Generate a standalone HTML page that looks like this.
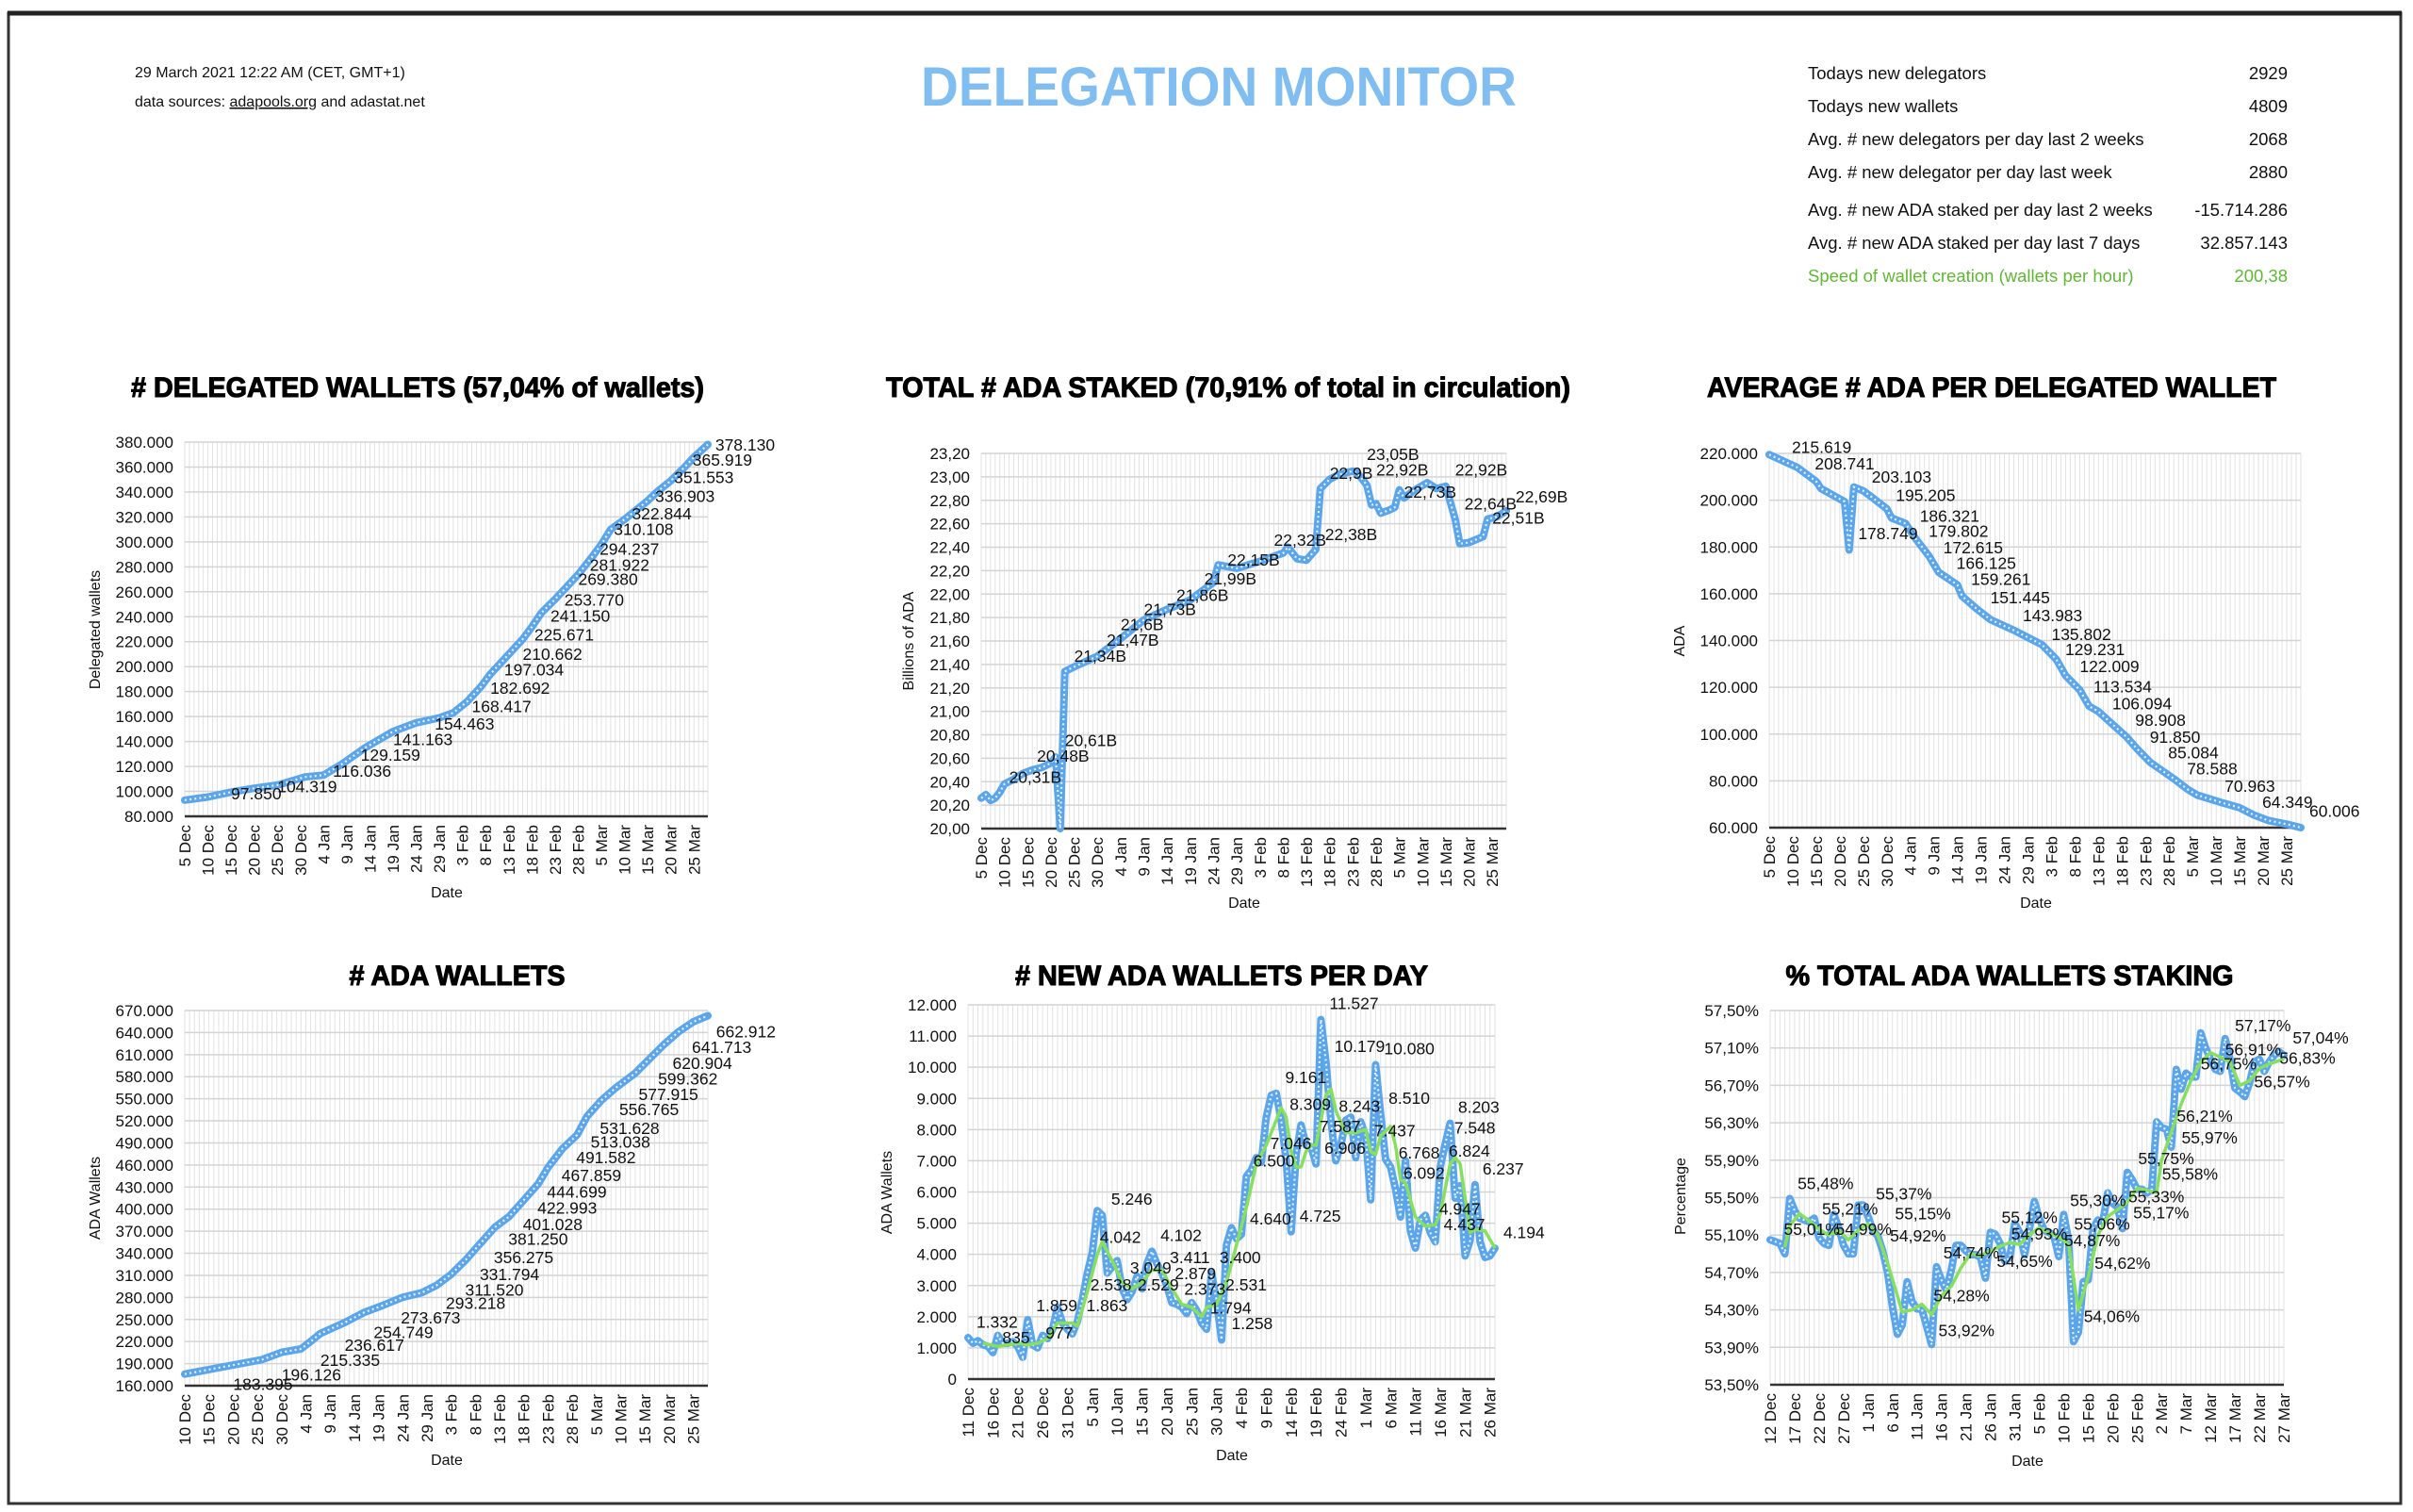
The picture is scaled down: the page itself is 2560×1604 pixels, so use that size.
<!DOCTYPE html>
<html><head><meta charset="utf-8"><style>
html,body{margin:0;padding:0;background:#fff;}
svg{display:block;font-family:"Liberation Sans",Arial,sans-serif;}
</style></head><body>
<svg id="root" width="2560" height="1604" viewBox="0 0 2560 1604" xmlns="http://www.w3.org/2000/svg">
<rect x="9" y="14" width="2538" height="1581" fill="#fff" stroke="#333" stroke-width="3"/>
<line x1="8" y1="14" x2="2548" y2="14" stroke="#222" stroke-width="5"/>
<text x="143" y="82" font-size="16" fill="#111">29 March 2021 12:22 AM  (CET, GMT+1)</text>
<text x="143" y="113" font-size="16" fill="#111">data sources: <tspan text-decoration="underline">adapools.org</tspan> and adastat.net</text>
<text x="1293" y="112" font-size="58" font-weight="bold" fill="#80bdf0" text-anchor="middle" textLength="632" lengthAdjust="spacingAndGlyphs">DELEGATION MONITOR</text>
<g font-size="18.5" fill="#111">
<text x="1918" y="84">Todays new delegators</text><text x="2427" y="84" text-anchor="end">2929</text>
<text x="1918" y="119">Todays new wallets</text><text x="2427" y="119" text-anchor="end">4809</text>
<text x="1918" y="154">Avg. # new delegators per day last 2 weeks</text><text x="2427" y="154" text-anchor="end">2068</text>
<text x="1918" y="189">Avg. # new delegator per day last week</text><text x="2427" y="189" text-anchor="end">2880</text>
<text x="1918" y="229">Avg. # new ADA staked per day last 2 weeks</text><text x="2427" y="229" text-anchor="end">-15.714.286</text>
<text x="1918" y="264">Avg. # new ADA staked per day last 7 days</text><text x="2427" y="264" text-anchor="end">32.857.143</text>
<text x="1918" y="299" fill="#5fb832">Speed of wallet creation (wallets per hour)</text><text x="2427" y="299" text-anchor="end" fill="#5fb832">200,38</text>
</g>
</svg>
<script>
// ---------- chart data ----------
const xTicksA = ["5 Dec","10 Dec","15 Dec","20 Dec","25 Dec","30 Dec","4 Jan","9 Jan","14 Jan","19 Jan","24 Jan","29 Jan","3 Feb","8 Feb","13 Feb","18 Feb","23 Feb","28 Feb","5 Mar","10 Mar","15 Mar","20 Mar","25 Mar"];
const xTicksB = ["10 Dec","15 Dec","20 Dec","25 Dec","30 Dec","4 Jan","9 Jan","14 Jan","19 Jan","24 Jan","29 Jan","3 Feb","8 Feb","13 Feb","18 Feb","23 Feb","28 Feb","5 Mar","10 Mar","15 Mar","20 Mar","25 Mar"];
const xTicksC = ["11 Dec","16 Dec","21 Dec","26 Dec","31 Dec","5 Jan","10 Jan","15 Jan","20 Jan","25 Jan","30 Jan","4 Feb","9 Feb","14 Feb","19 Feb","24 Feb","1 Mar","6 Mar","11 Mar","16 Mar","21 Mar","26 Mar"];
const xTicksD = ["12 Dec","17 Dec","22 Dec","27 Dec","1 Jan","6 Jan","11 Jan","16 Jan","21 Jan","26 Jan","31 Jan","5 Feb","10 Feb","15 Feb","20 Feb","25 Feb","2 Mar","7 Mar","12 Mar","17 Mar","22 Mar","27 Mar"];

const c1YVals = [80000,100000,120000,140000,160000,180000,200000,220000,240000,260000,280000,300000,320000,340000,360000,380000];
const c1YLabels = ["80.000","100.000","120.000","140.000","160.000","180.000","200.000","220.000","240.000","260.000","280.000","300.000","320.000","340.000","360.000","380.000"];
const c1Days = [0,5,10,15,20,26,30,34,39,45,50,55,58,61,64,66,68,70,73,75,77,80,83,85,88,90,92,95,98,100,102,105,108,110,113];
const c1Vals = [93000,95500,99400,102500,105000,111600,113000,122000,135000,148000,155000,159000,163000,172000,184000,194000,202000,210000,222000,232000,243000,254000,266000,274000,288000,298000,310000,318000,327000,333000,340000,349000,360000,368000,378130];
const c1LblText = ["97.850","104.319","116.036","129.159","141.163","154.463","168.417","182.692","197.034","210.662","225.671","241.150","253.770","269.380","281.922","294.237","310.108","322.844","336.903","351.553","365.919","378.130"];
const c1LblDay = [10,20,32,38,45,54,62,66,69,73,75.5,79,82,85,87.5,89.6,92.7,96.6,101.6,105.7,109.7,114.6];
const c1LblVal = [98000,103800,116200,129000,141400,153900,168100,182600,197400,210100,225500,240600,253600,269900,281400,294200,310100,322600,336500,351600,365500,377700];

const c2YVals = [20,20.2,20.4,20.6,20.8,21,21.2,21.4,21.6,21.8,22,22.2,22.4,22.6,22.8,23,23.2];
const c2YLabels = ["20,00","20,20","20,40","20,60","20,80","21,00","21,20","21,40","21,60","21,80","22,00","22,20","22,40","22,60","22,80","23,00","23,20"];
const c2Days = [0,1,2,3,4,5,7,9,11,13,15,16,17,18,20,25,30,35,40,45,50,51,55,60,65,66,68,70,72,73,75,77,80,81,83,84,85,86,88,89,90,91,93,96,98,100,101,102,103,105,108,109,111,113];
const c2Vals = [20.26,20.29,20.24,20.26,20.31,20.38,20.42,20.47,20.50,20.52,20.56,20.61,20.00,21.34,21.38,21.47,21.62,21.78,21.87,21.95,22.10,22.25,22.22,22.28,22.35,22.40,22.30,22.29,22.38,22.90,22.98,23.02,23.05,23.03,22.93,22.76,22.77,22.69,22.72,22.74,22.89,22.82,22.88,22.95,22.90,22.92,22.78,22.64,22.43,22.44,22.49,22.64,22.66,22.71];
const c2LblText = ["20,31B","20,48B","20,61B","21,34B","21,47B","21,6B","21,73B","21,86B","21,99B","22,15B","22,32B","22,38B","22,9B","23,05B","22,92B","22,73B","22,92B","22,64B","22,69B","22,51B"];
const c2LblDay = [6,12,18,20,27,30,35,42,48,53,63,74,75,83,85,91,102,104,115,110];
const c2LblVal = [20.44,20.62,20.75,21.47,21.61,21.74,21.87,21.99,22.13,22.29,22.46,22.51,23.03,23.19,23.06,22.87,23.06,22.77,22.83,22.65];

const c3YVals = [60000,80000,100000,120000,140000,160000,180000,200000,220000];
const c3YLabels = ["60.000","80.000","100.000","120.000","140.000","160.000","180.000","200.000","220.000"];
const c3Days = [0,6,10,11,16,17,18,20,22,25,26,29,31,34,36,40,41,44,47,52,55,58,61,63,66,68,70,73,76,78,81,86,89,91,96,100,103,106,110,113];
const c3Vals = [219500,214000,208000,205000,199400,178749,205600,204000,201000,196300,192400,190000,183900,176000,169200,163800,159000,153700,149000,144400,141300,138200,132000,125000,118900,111900,109600,104100,98700,94100,87900,80900,76300,73900,70800,68500,65400,63100,61500,60006];
const c3LblText = ["215.619","208.741","203.103","195.205","178.749","186.321","179.802","172.615","166.125","159.261","151.445","143.983","135.802","129.231","122.009","113.534","106.094","98.908","91.850","85.084","78.588","70.963","64.349","60.006"];
const c3LblDay = [4.8,9.7,21.8,26.9,18.9,32,33.9,37,39.8,42.9,47,53.9,60,62.9,66,68.9,72.9,77.8,80.9,84.8,88.8,96.8,104.8,114.8];
const c3LblVal = [222700,215600,210000,202000,185800,193200,186700,179700,173100,166100,158400,150600,142600,136200,128900,120300,113000,106000,98700,92100,85200,77800,70800,67000];

const c4YVals = [160000,190000,220000,250000,280000,310000,340000,370000,400000,430000,460000,490000,520000,550000,580000,610000,640000,670000];
const c4YLabels = ["160.000","190.000","220.000","250.000","280.000","310.000","340.000","370.000","400.000","430.000","460.000","490.000","520.000","550.000","580.000","610.000","640.000","670.000"];
const c4Days = [0,10,16,20,24,26,28,33,37,41,45,49,52,55,58,61,64,67,70,73,75,78,81,83,86,89,93,96,99,102,105,108];
const c4Vals = [175800,188100,195500,205300,210000,220100,231000,245700,259500,269400,280200,286600,296500,311300,331000,353200,375300,390100,412300,434500,456600,482300,501000,525600,547800,565000,584800,604500,624200,641400,654700,662912];
const c4LblText = ["183.395","196.126","215.335","236.617","254.749","273.673","293.218","311.520","331.794","356.275","381.250","401.028","422.993","444.699","467.859","491.582","513.038","531.628","556.765","577.915","599.362","620.904","641.713","662.912"];
const c4LblDay = [10,20,28,33,39,44.6,53.9,57.9,60.9,63.8,66.8,69.8,72.8,74.8,77.8,80.8,83.8,85.7,89.7,93.7,97.7,100.7,104.7,109.7];
const c4LblVal = [161900,174800,194500,215200,232400,252100,271900,290100,311300,334400,359100,379300,401400,423100,445800,469900,491100,509900,535500,556200,577400,598500,620200,641400];

const c5YVals = [0,1000,2000,3000,4000,5000,6000,7000,8000,9000,10000,11000,12000];
const c5YLabels = ["0","1.000","2.000","3.000","4.000","5.000","6.000","7.000","8.000","9.000","10.000","11.000","12.000"];
const c5Vals = [1330,1150,1230,1100,1050,850,1400,1150,1150,1200,1050,700,1900,1100,1000,1400,1300,1600,2300,1800,1600,1450,1850,2550,3400,4050,5400,5250,3400,3600,3800,2900,2550,2800,3300,2900,3700,4100,3700,3400,3000,2450,2400,2300,2100,2450,2200,1800,1600,3400,2500,1258,4300,4850,4500,4640,6500,6700,7100,6950,8400,9100,9161,8300,7046,4725,7200,8150,7500,7450,6900,11527,10179,8300,7000,7500,8300,8400,7100,8250,7800,5750,10080,8510,7050,6800,6100,5200,7000,4750,4200,5100,5250,4700,4400,6800,7548,8203,5800,6200,3950,4437,6237,4400,3900,3950,4194];
const c5AvgDays = [3,6,10,12,14,16,18,21,22,24,26,27,29,31,33,35,37,39,41,43,45,47,48,50,52,54,56,58,60,62,63,64,65,66,67,68,69,70,72,73,74,76,78,80,81,82,83,85,86,87,88,90,92,94,95,97,98,99,100,101,102,104,106];
const c5AvgVals = [1150,1050,1150,1100,1150,1300,1800,1800,1700,2800,4000,4400,3800,3100,2900,3100,3500,3500,2900,2400,2300,2000,2300,2400,3100,4300,5500,6900,7500,8300,8700,8400,7300,6800,6800,7300,7500,7500,9100,9300,8600,7900,7900,8000,7300,7200,7800,8100,7500,6400,6300,5200,4900,4950,5300,6900,7100,6900,5800,4700,4800,4750,4200];
const c5LblText = ["1.332","835","1.859","977","1.863","5.246","4.042","2.538","3.049","2.529","4.102","3.411","2.879","2.373","1.794","1.258","3.400","2.531","4.640","4.725","6.500","7.046","9.161","8.309","7.587","6.906","11.527","10.179","8.243","10.080","8.510","7.437","6.768","6.092","8.203","7.548","6.824","4.947","4.437","6.237","4.194"];
const c5LblDay = [1.7,6.9,13.7,15.6,23.8,28.8,26.5,24.6,32.6,34.1,38.7,40.6,41.6,43.5,48.7,53,50.6,51.8,56.7,66.7,57.4,60.8,63.8,64.7,70.7,71.7,72.7,73.7,74.6,83.7,84.6,81.7,86.6,87.6,98.6,97.8,96.7,94.8,95.7,103.5,107.7];
const c5LblVal = [1824,1336,2358,1475,2358,5774,4554,3020,3566,3020,4612,3892,3392,2881,2289,1777,3892,3020,5135,5228,6993,7551,9677,8806,8097,7400,12047,10664,8748,10595,9003,7958,7261,6598,8713,8050,7319,5460,4960,6738,4705];

const c6YVals = [53.5,53.9,54.3,54.7,55.1,55.5,55.9,56.3,56.7,57.1,57.5];
const c6YLabels = ["53,50%","53,90%","54,30%","54,70%","55,10%","55,50%","55,90%","56,30%","56,70%","57,10%","57,50%"];
const c6Vals = [55.05,55.03,55.01,54.90,55.49,55.36,55.28,55.26,55.24,55.28,55.07,55.01,54.99,55.32,55.18,54.99,54.90,54.90,55.42,55.42,55.30,55.15,55.09,54.93,54.70,54.33,54.04,54.14,54.60,54.39,54.31,54.31,54.12,53.93,54.76,54.62,54.51,54.72,54.99,54.99,54.93,54.89,54.89,54.86,54.64,55.13,55.11,55.01,54.82,54.86,55.22,55.13,54.89,55.17,55.46,55.28,55.15,55.13,55.09,54.87,55.32,55.05,53.96,54.06,54.60,54.62,55.17,55.26,55.24,55.55,55.44,55.40,55.17,55.77,55.69,55.59,55.59,55.55,55.59,56.31,56.25,56.23,56.04,56.87,56.66,56.83,56.79,56.79,57.26,57.10,56.98,56.87,56.85,57.20,56.98,56.67,56.63,56.58,56.73,56.95,56.98,56.85,56.95,57.02,57.06,57.02];
const c6AvgDays = [3,4,6,8,10,12,14,16,18,20,22,24,26,27,29,31,33,35,37,39,41,43,45,47,49,51,53,55,57,59,61,63,65,67,69,71,73,75,77,79,80,82,84,86,88,90,92,94,96,98,100,102,105];
const c6AvgVals = [54.97,55.2,55.33,55.25,55.16,55.1,55.15,55.05,55.15,55.22,55.1,54.8,54.45,54.28,54.3,54.36,54.25,54.45,54.55,54.75,54.9,54.88,54.93,54.98,55.02,55.0,55.1,55.18,55.12,55.08,55.0,54.3,54.65,55.1,55.3,55.37,55.45,55.6,55.58,55.55,55.9,56.2,56.5,56.75,56.95,57.05,57.0,56.95,56.7,56.75,56.88,56.93,56.98];
const c6LblText = ["55,48%","55,01%","55,21%","54,99%","55,37%","55,15%","54,92%","54,28%","53,92%","54,74%","54,65%","55,12%","54,93%","54,87%","55,30%","55,06%","54,62%","54,06%","55,33%","55,17%","55,75%","55,58%","56,21%","55,97%","56,75%","56,91%","57,17%","56,57%","56,83%","57,04%"];
const c6LblDay = [5.6,2.8,10.6,13.4,21.6,25.5,24.5,33.4,34.4,35.4,46.3,47.3,49.3,60.1,61.3,62.1,66.3,64.1,73.2,74.2,75.2,80.1,83.1,84.1,88,93,95,98.9,104.1,106.8];
const c6LblVal = [55.65,55.16,55.38,55.16,55.54,55.33,55.09,54.45,54.08,54.91,54.82,55.29,55.11,55.04,55.47,55.22,54.80,54.23,55.51,55.34,55.92,55.75,56.37,56.14,56.93,57.08,57.34,56.74,56.99,57.21];

// ---------- rendering ----------
const NS = "http://www.w3.org/2000/svg";
const root = document.getElementById('root');
function mk(tag, attrs, parent){
  const e = document.createElementNS(NS, tag);
  for (const k in attrs) e.setAttribute(k, attrs[k]);
  (parent||root).appendChild(e);
  return e;
}
function seq(n){ const a=[]; for(let i=0;i<n;i++) a.push(i); return a; }

function drawChart(c){
  const g = mk('g', {});
  
  
  const xs = d => c.x0 + (c.x1 - c.x0) * d / c.nDays;
  const ys = v => c.y1 - (c.y1 - c.y0) * (v - c.yMin) / (c.yMax - c.yMin);
  const t = mk('text', {x:c.tx, y:c.ty, 'font-size':30, 'font-weight':'bold', fill:'#000', stroke:'#000', 'stroke-width':1.1, 'text-anchor':'middle', textLength:c.tw, lengthAdjust:'spacingAndGlyphs'}, g);
  t.textContent = c.title;
  
  
  for (let d=0; d<=c.nDays; d++){
    const l = mk('line', {x1:xs(d), x2:xs(d), y1:c.y0, y2:c.y1, stroke:'#e2e2e2', 'stroke-width':1}, g);
    
    
  }
  c.yVals.forEach((v,i)=>{
    const l = mk('line', {x1:c.x0, x2:c.x1, y1:ys(v), y2:ys(v), stroke:'#d4d4d4', 'stroke-width':1.5}, g);
    
    
    const tx = mk('text', {x:c.x0-12, y:ys(v)+6, 'font-size':17, fill:'#111', 'text-anchor':'end'}, g);
    tx.textContent = c.yLabels[i];
    
    
  });
  const ax = mk('line', {x1:c.x0, x2:c.x1, y1:c.y1, y2:c.y1, stroke:'#333', 'stroke-width':2.5}, g);
  
  
  c.xLabels.forEach((s,i)=>{
    const x = xs(i*5) + 6, y = c.y1 + 9;
    const tx = mk('text', {x:x, y:y, 'font-size':17, fill:'#111', 'text-anchor':'end', transform:'rotate(-90 '+x+' '+y+')'}, g);
    tx.textContent = s;
    
    
  });
  const xt = mk('text', {x:c.dx, y:c.dy, 'font-size':16, fill:'#111', 'text-anchor':'middle'}, g);
  xt.textContent = 'Date';
  
  
  const yt = mk('text', {x:c.yx, y:c.yy, 'font-size':16, fill:'#111', 'text-anchor':'middle', transform:'rotate(-90 '+c.yx+' '+c.yy+')'}, g);
  yt.textContent = c.yTitle;
  
  
  const pts = c.days.map((d,i)=>xs(d).toFixed(1)+','+ys(c.vals[i]).toFixed(1)).join(' ');
  const pl = mk('polyline', {points:pts, fill:'none', stroke:'#5aa5ec', 'stroke-width':8, 'stroke-linejoin':'round', 'stroke-linecap':'round'}, g);
  
  
  const pw = mk('polyline', {points:pts, fill:'none', stroke:'#ffffff', 'stroke-width':2.2, 'stroke-dasharray':'2 3.2', opacity:0.85}, g);
  
  
  if (c.avgDays){
    const ap = c.avgDays.map((d,i)=>xs(d).toFixed(1)+','+ys(c.avgVals[i]).toFixed(1)).join(' ');
    const al = mk('polyline', {points:ap, fill:'none', stroke:'#86e05e', 'stroke-width':3.5, 'stroke-linejoin':'round'}, g);
    
    
  }
  c.lblText.forEach((s,i)=>{
    const tx = mk('text', {x:xs(c.lblDay[i]), y:ys(c.lblVal[i])+6, 'font-size':17.5, fill:'#111'}, g);
    tx.textContent = s;
    
    
  });
}

drawChart({name:'delegated-wallets-chart', title:'# DELEGATED WALLETS (57,04% of wallets)', tx:443, ty:421, tw:608,
  x0:196, x1:751, y0:469, y1:866, nDays:113, yMin:80000, yMax:380000, yVals:c1YVals, yLabels:c1YLabels, xLabels:xTicksA,
  dx:474, dy:952, yx:106, yy:668, yTitle:'Delegated wallets', days:c1Days, vals:c1Vals, lblText:c1LblText, lblDay:c1LblDay, lblVal:c1LblVal});
drawChart({name:'ada-staked-chart', title:'TOTAL # ADA STAKED (70,91% of total in circulation)', tx:1303, ty:421, tw:726,
  x0:1041, x1:1598, y0:481, y1:879, nDays:113, yMin:20, yMax:23.2, yVals:c2YVals, yLabels:c2YLabels, xLabels:xTicksA,
  dx:1320, dy:963, yx:969, yy:680, yTitle:'Billions of ADA', days:c2Days, vals:c2Vals, lblText:c2LblText, lblDay:c2LblDay, lblVal:c2LblVal});
drawChart({name:'avg-ada-per-wallet-chart', title:'AVERAGE # ADA PER DELEGATED WALLET', tx:2113, ty:421, tw:604,
  x0:1877, x1:2441, y0:481, y1:878, nDays:113, yMin:60000, yMax:220000, yVals:c3YVals, yLabels:c3YLabels, xLabels:xTicksA,
  dx:2160, dy:963, yx:1787, yy:680, yTitle:'ADA', days:c3Days, vals:c3Vals, lblText:c3LblText, lblDay:c3LblDay, lblVal:c3LblVal});
drawChart({name:'ada-wallets-chart', title:'# ADA WALLETS', tx:485, ty:1045, tw:229,
  x0:196, x1:751, y0:1072, y1:1470, nDays:108, yMin:160000, yMax:670000, yVals:c4YVals, yLabels:c4YLabels, xLabels:xTicksB,
  dx:474, dy:1554, yx:106, yy:1271, yTitle:'ADA Wallets', days:c4Days, vals:c4Vals, lblText:c4LblText, lblDay:c4LblDay, lblVal:c4LblVal});
drawChart({name:'new-wallets-per-day-chart', title:'# NEW ADA WALLETS PER DAY', tx:1296, ty:1045, tw:438,
  x0:1027, x1:1586, y0:1066, y1:1463, nDays:106, yMin:0, yMax:12000, yVals:c5YVals, yLabels:c5YLabels, xLabels:xTicksC,
  dx:1307, dy:1549, yx:946, yy:1265, yTitle:'ADA Wallets', days:seq(c5Vals.length), vals:c5Vals, avgDays:c5AvgDays, avgVals:c5AvgVals,
  lblText:c5LblText, lblDay:c5LblDay, lblVal:c5LblVal});
drawChart({name:'wallets-staking-pct-chart', title:'% TOTAL ADA WALLETS STAKING', tx:2132, ty:1045, tw:475,
  x0:1878, x1:2423, y0:1072, y1:1469, nDays:105, yMin:53.5, yMax:57.5, yVals:c6YVals, yLabels:c6YLabels, xLabels:xTicksD,
  dx:2151, dy:1555, yx:1788, yy:1269, yTitle:'Percentage', days:seq(c6Vals.length), vals:c6Vals, avgDays:c6AvgDays, avgVals:c6AvgVals,
  lblText:c6LblText, lblDay:c6LblDay, lblVal:c6LblVal});
</script>
</body></html>
